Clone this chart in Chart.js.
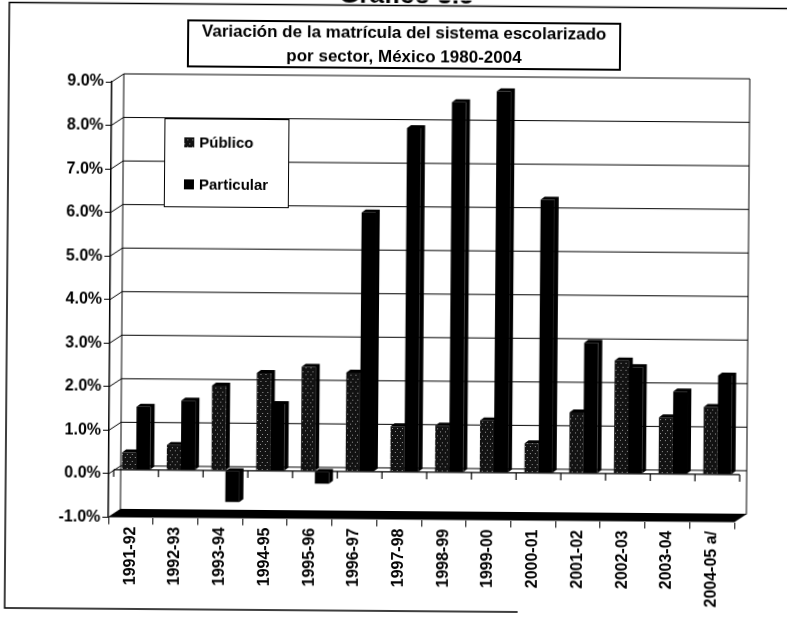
<!DOCTYPE html>
<html>
<head>
<meta charset="utf-8">
<script src="https://cdn.jsdelivr.net/npm/chart.js@4/dist/chart.umd.min.js"></script>
<style>
  html, body { margin: 0; padding: 0; background: #fff; overflow: hidden; }
  /* the scan is slightly tilted */
  #chart { display: block; transform: rotate(0.45deg); transform-origin: 393px 308px; }
</style>
</head>
<body>
<canvas id="chart" width="787" height="617"></canvas>
<script>
// Data
const categories = ['1991-92', '1992-93', '1993-94', '1994-95', '1995-96', '1996-97', '1997-98',
    '1998-99', '1999-00', '2000-01', '2001-02', '2002-03', '2003-04', '2004-05 a/'];
const publico = [0.4, 0.58, 1.95, 2.25, 2.4, 2.27, 1.05, 1.07, 1.2, 0.68, 1.4, 2.6, 1.3, 1.55];
const particular = [1.45, 1.6, -0.72, 1.54, -0.28, 5.95, 7.9, 8.5, 8.76, 6.28, 3.0, 2.45, 1.9, 2.27];
const yTickLabels = ['-1.0%', '0.0%', '1.0%', '2.0%', '3.0%', '4.0%', '5.0%', '6.0%', '7.0%', '8.0%', '9.0%'];
const seriesNames = ['Público', 'Particular'];
const titleLines = ['Variación de la matrícula del sistema escolarizado', 'por sector, México 1980-2004'];
const heading = 'Gráfico 3.5';

const FONT = "'Liberation Sans', Arial, sans-serif";
const wall = { dx: 12, dy: -8 };      // back wall offset
const shift = { dx: 5, dy: -4 };      // bars sit half way in depth
const face = { dx: 4, dy: -3 };       // bar side / top faces

// dark dotted fill used for "Público"
function speckle() {
    const c = document.createElement('canvas');
    c.width = 5; c.height = 7;
    const g = c.getContext('2d');
    g.fillStyle = '#121212';
    g.fillRect(0, 0, 5, 7);
    g.fillStyle = '#9a9a9a';
    g.fillRect(1, 1, 1, 1);
    g.fillRect(3, 5, 1, 1);
    return g.createPattern(c, 'repeat');
}
const publicoFill = speckle();

const scan3d = {
    id: 'scan3d',
    beforeDraw(chart) {
        const ctx = chart.ctx;
        ctx.save();
        ctx.fillStyle = '#fff';
        ctx.fillRect(0, 0, chart.width, chart.height);
        // heading, mostly cut off at the top of the scan
        ctx.fillStyle = '#000';
        ctx.font = 'bold 26px ' + FONT;
        ctx.textAlign = 'center';
        ctx.textBaseline = 'alphabetic';
        ctx.fillText(heading, 404, 3);
        // outer frame
        ctx.strokeStyle = '#000';
        ctx.lineWidth = 1.5;
        ctx.beginPath();
        ctx.moveTo(chart.width, 5.5);
        ctx.lineTo(7, 5.5);
        ctx.lineTo(7, 611);
        ctx.lineTo(520, 611);
        ctx.stroke();
        ctx.restore();
    },
    beforeDatasetsDraw(chart) {
        const { ctx, chartArea: a, scales: { y } } = chart;
        ctx.save();
        ctx.strokeStyle = '#000';
        ctx.lineWidth = 1;
        // back wall grid + side wall lines
        y.ticks.forEach(t => {
            const py = y.getPixelForValue(t.value);
            ctx.beginPath();
            ctx.moveTo(a.left, py);
            ctx.lineTo(a.left + wall.dx, py + wall.dy);
            ctx.lineTo(a.right + wall.dx, py + wall.dy);
            ctx.stroke();
        });
        ctx.beginPath();
        ctx.moveTo(a.left + wall.dx, a.top + wall.dy);
        ctx.lineTo(a.left + wall.dx, a.bottom + wall.dy);
        ctx.moveTo(a.right + wall.dx, a.top + wall.dy);
        ctx.lineTo(a.right + wall.dx, a.bottom + wall.dy);
        ctx.stroke();
        // floor slab
        ctx.fillStyle = '#000';
        ctx.beginPath();
        ctx.moveTo(a.left, a.bottom);
        ctx.lineTo(a.right, a.bottom);
        ctx.lineTo(a.right + wall.dx, a.bottom + wall.dy);
        ctx.lineTo(a.left + wall.dx, a.bottom + wall.dy);
        ctx.closePath();
        ctx.fill();
        // category axis on the bar plane at 0
        const y0 = y.getPixelForValue(0) + shift.dy;
        const step = (a.right - a.left) / categories.length;
        ctx.lineWidth = 1.2;
        ctx.beginPath();
        ctx.moveTo(a.left + shift.dx, y0);
        ctx.lineTo(a.right + shift.dx, y0);
        for (let i = 0; i <= categories.length; i++) {
            const bx = a.left + i * step + shift.dx;
            ctx.moveTo(bx, y0);
            ctx.lineTo(bx, y0 + 7);
        }
        ctx.stroke();
        ctx.restore();
        // bars drawn half way into the depth
        ctx.save();
        ctx.translate(shift.dx, shift.dy);
    },
    afterDatasetDraw(chart, args) {
        const ctx = chart.ctx;
        ctx.save();
        ctx.fillStyle = '#000';
        args.meta.data.forEach(bar => {
            const p = bar.getProps(['x', 'y', 'base', 'width'], true);
            const l = p.x - p.width / 2, r = p.x + p.width / 2;
            const top = Math.min(p.y, p.base), bot = Math.max(p.y, p.base);
            ctx.beginPath();
            ctx.moveTo(l, top);
            ctx.lineTo(l + face.dx, top + face.dy);
            ctx.lineTo(r + face.dx, top + face.dy);
            ctx.lineTo(r + face.dx, bot + face.dy);
            ctx.lineTo(r, bot);
            ctx.lineTo(r, top);
            ctx.closePath();
            ctx.fill();
        });
        ctx.restore();
    },
    afterDatasetsDraw(chart) {
        chart.ctx.restore();
    },
    afterDraw(chart) {
        const ctx = chart.ctx;
        ctx.save();
        // title box
        ctx.fillStyle = '#fff';
        ctx.fillRect(186, 22, 432, 46);
        ctx.strokeStyle = '#000';
        ctx.lineWidth = 2;
        ctx.strokeRect(186, 22, 432, 46);
        ctx.fillStyle = '#000';
        ctx.font = 'bold 17px ' + FONT;
        ctx.textAlign = 'center';
        ctx.textBaseline = 'middle';
        ctx.fillText(titleLines[0], 402, 33);
        ctx.fillText(titleLines[1], 402, 57);
        // legend
        ctx.fillStyle = '#fff';
        ctx.fillRect(163, 120, 124, 88);
        ctx.lineWidth = 1;
        ctx.strokeRect(163.5, 120.5, 124, 88);
        const fills = [publicoFill, '#000'];
        const rows = [144, 186];
        ctx.font = 'bold 15px ' + FONT;
        ctx.textAlign = 'left';
        seriesNames.forEach((name, i) => {
            ctx.fillStyle = fills[i];
            ctx.fillRect(183, rows[i] - 5, 10, 10);
            ctx.fillStyle = '#000';
            ctx.fillText(name, 198, rows[i] + 1);
        });
        ctx.restore();
    }
};

new Chart(document.getElementById('chart').getContext('2d'), {
    type: 'bar',
    data: {
        labels: categories,
        datasets: [{
            label: seriesNames[0],
            data: publico,
            backgroundColor: publicoFill,
            borderWidth: 0
        }, {
            label: seriesNames[1],
            data: particular,
            backgroundColor: '#000',
            borderWidth: 0
        }]
    },
    options: {
        responsive: false,
        animation: false,
        devicePixelRatio: 1,
        layout: { padding: { top: 84, left: 0, right: 51, bottom: 0 } },
        datasets: { bar: { categoryPercentage: 0.63, barPercentage: 1 } },
        plugins: {
            legend: { display: false },
            title: { display: false },
            tooltip: { enabled: false }
        },
        scales: {
            x: {
                afterFit: s => { s.height = 97.5; },
                grid: { display: true, drawOnChartArea: false, tickLength: 7, color: '#000', offset: true },
                border: { display: false },
                ticks: {
                    autoSkip: false, minRotation: 90, maxRotation: 90, padding: 2,
                    color: '#000', font: { family: FONT, size: 16, weight: 'bold' }
                }
            },
            y: {
                min: -1,
                max: 9,
                afterFit: s => { s.width = 110; },
                grid: { display: true, drawOnChartArea: false, tickLength: 6, color: '#000' },
                border: { display: true, color: '#000', width: 1.5 },
                ticks: {
                    stepSize: 1, padding: 2, color: '#000',
                    font: { family: FONT, size: 16, weight: 'bold' },
                    callback: v => yTickLabels[Math.round(v) + 1]
                }
            }
        }
    },
    plugins: [scan3d]
});
</script>
</body>
</html>
